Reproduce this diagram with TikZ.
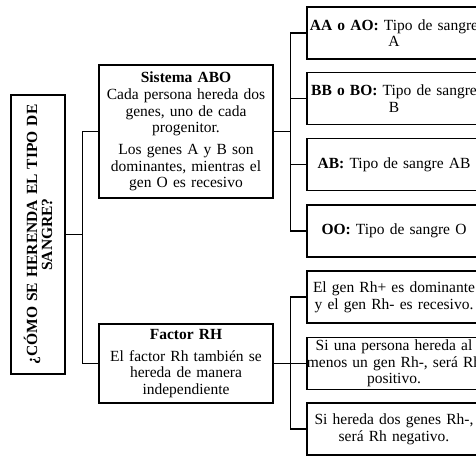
\documentclass[tikz,border=0pt]{standalone}
\usepackage{fontspec}
\setmainfont{Liberation Serif}
\usetikzlibrary{positioning}
\tikzset{
  box/.style={draw=black, fill=white, align=center, line width=1.1pt,
              font=\fontsize{15.5}{16.7}\selectfont, text width=170pt,
              inner xsep=2pt, inner ysep=2pt},
  link/.style={draw=black, line width=1.1pt},
}

\begin{document}
\begin{tikzpicture}[x=1pt, y=-1pt,
      leaf/.style={box, minimum height=52pt},
      mid/.style={box},
      root/.style={box, rotate=90, minimum width=279pt, minimum height=54pt,
                   text width=265pt, font=\fontsize{15.5}{15}\selectfont\bfseries}]
    \useasboundingbox (0,0) rectangle (476,456);
    \clip (0,0) rectangle (476,456);
    \node[root] (q) at (38,234.5) {¿CÓMO SE HERENDA EL TIPO DE\\SANGRE?};
    \node[mid, minimum height=133pt] (abo) at (186,131.5) {\textbf{Sistema ABO}\\
      Cada persona hereda dos\\ genes, uno de cada\\ progenitor.\\[5pt]
      Los genes A y B son\\ dominantes, mientras el\\ gen O es recesivo};
    \node[mid, minimum height=79pt] (rh) at (186,363.5) {\textbf{Factor RH}\\[5pt]
      El factor Rh también se\\ hereda de manera\\ independiente};
    \node[leaf] (aa) at (394,33)    {\textbf{AA o AO:} Tipo de sangre\\ A};
    \node[leaf] (bb) at (394,98.5)  {\textbf{BB o BO:} Tipo de sangre\\ B};
    \node[leaf] (ab) at (394,164.5) {\textbf{AB:} Tipo de sangre AB};
    \node[leaf] (oo) at (394,231)   {\textbf{OO:} Tipo de sangre O};
    \node[leaf] (r1) at (394,297)   {El gen Rh+ es dominante\\ y el gen Rh- es recesivo.};
    \node[leaf] (r2) at (394,363.5) {Si una persona hereda al\\
      \makebox[0pt][c]{menos un gen Rh-, será Rh}\\ positivo.};
    \node[leaf] (r3) at (394,429)   {Si hereda dos genes Rh-,\\ será Rh negativo.};
    \draw[link] (q.south) -- ++(17,0) coordinate (j0) |- (abo.west);
    \draw[link] (j0) |- (rh.west);
    \draw[link] (abo.east) -- ++(17,0) coordinate (j1);
    \foreach \n in {aa,bb,ab,oo} \draw[link] (j1) |- (\n.west);
    \draw[link] (rh.east) -- ++(17,0) coordinate (j2);
    \foreach \n in {r1,r2,r3} \draw[link] (j2) |- (\n.west);
  \end{tikzpicture}
\end{document}
